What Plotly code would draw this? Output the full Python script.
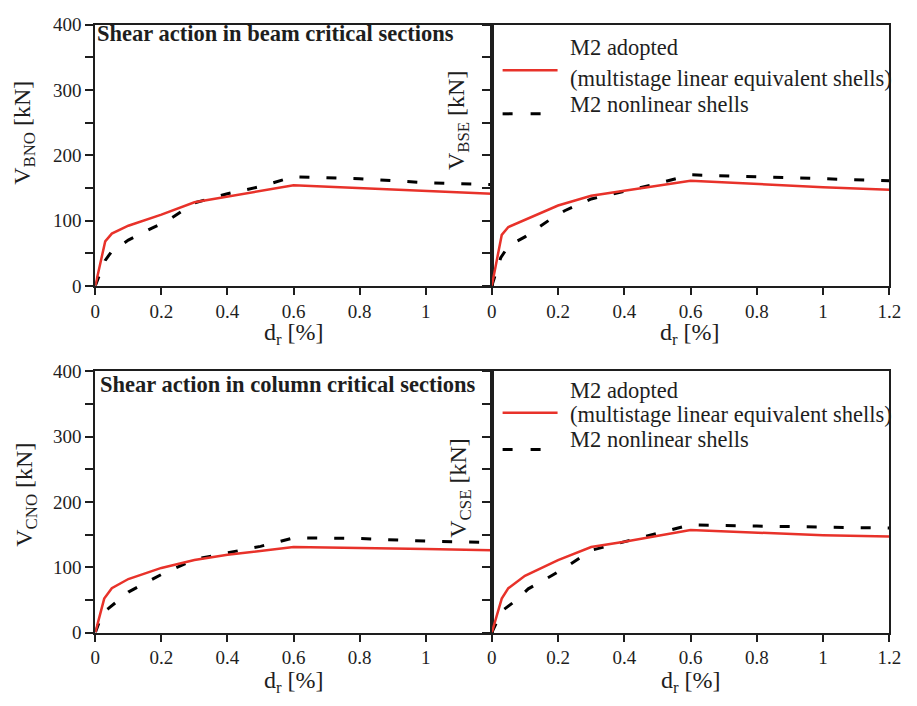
import plotly.graph_objects as go

W, H = 917, 706

# ---------------- data ----------------
# Beam, node NO
x_bno_m2 = [0, 0.03, 0.05, 0.1, 0.2, 0.3, 0.6, 1.0, 1.2]
v_bno_m2 = [0, 68, 80, 92, 109, 128, 154, 145, 141]
x_bno_nl = [0, 0.03, 0.05, 0.1, 0.17, 0.22, 0.3, 0.4, 0.5, 0.6, 0.8, 1.0, 1.2]
v_bno_nl = [0, 39, 53, 70, 88, 100, 127, 141, 152, 167, 164, 158, 155]
# Beam, node SE
x_bse_m2 = [0, 0.03, 0.05, 0.1, 0.2, 0.3, 0.4, 0.6, 1.0, 1.2]
v_bse_m2 = [0, 78, 90, 101, 123, 138, 146, 161, 151, 147]
x_bse_nl = [0, 0.027, 0.05, 0.1, 0.18, 0.22, 0.3, 0.4, 0.48, 0.6, 0.8, 1.0, 1.2]
v_bse_nl = [0, 43, 61, 75, 103, 115, 133, 145, 154, 170, 167, 164, 161]
# Column, node NO
x_cno_m2 = [0, 0.027, 0.05, 0.1, 0.2, 0.3, 0.4, 0.6, 1.0, 1.2]
v_cno_m2 = [0, 52, 68, 82, 99, 111, 119, 131, 128, 126]
x_cno_nl = [0, 0.022, 0.04, 0.1, 0.2, 0.3, 0.4, 0.5, 0.6, 0.8, 1.0, 1.2]
v_cno_nl = [0, 30, 37, 62, 89, 112, 122, 132, 145, 144, 140, 138]
# Column, node SE
x_cse_m2 = [0, 0.03, 0.05, 0.1, 0.2, 0.3, 0.4, 0.6, 1.0, 1.2]
v_cse_m2 = [0, 52, 68, 87, 111, 131, 139, 157, 149, 147]
x_cse_nl = [0, 0.03, 0.075, 0.11, 0.18, 0.22, 0.3, 0.4, 0.48, 0.6, 0.8, 1.0, 1.2]
v_cse_nl = [0, 33, 50, 67, 87, 99, 126, 139, 149, 165, 163, 162, 160]

x_ticks_left = [0, 0.2, 0.4, 0.6, 0.8, 1.0]
x_ticks_right = [0, 0.2, 0.4, 0.6, 0.8, 1.0, 1.2]
x_labels = {0: "0", 0.2: "0.2", 0.4: "0.4", 0.6: "0.6", 0.8: "0.8", 1.0: "1", 1.2: "1.2"}
y_ticks = [0, 50, 100, 150, 200, 250, 300, 350, 400]
y_labels = ["0", "", "100", "", "200", "", "300", "", "400"]

legend_m2 = ["M2 adopted", "(multistage linear equivalent shells)"]
legend_nl = "M2 nonlinear shells"
panel_titles = ["Shear action in beam critical sections", "Shear action in column critical sections"]

RED = "#e8322a"
INK = "#1e1e1e"
FONT = "Liberation Serif, Times New Roman, serif"
DASH = "10px,17px"

def px(x):
    return x / W

def py(y):
    return 1 - y / H

fig = go.Figure()

panels = [
    ("x", "y", x_bno_m2, v_bno_m2, x_bno_nl, v_bno_nl),
    ("x2", "y2", x_bse_m2, v_bse_m2, x_bse_nl, v_bse_nl),
    ("x3", "y3", x_cno_m2, v_cno_m2, x_cno_nl, v_cno_nl),
    ("x4", "y4", x_cse_m2, v_cse_m2, x_cse_nl, v_cse_nl),
]
for xa, ya, xm, vm, xn, vn in panels:
    fig.add_trace(go.Scatter(x=xn, y=vn, xaxis=xa, yaxis=ya, mode="lines",
                             line=dict(color="black", width=3, dash=DASH),
                             showlegend=False, hoverinfo="skip"))
    fig.add_trace(go.Scatter(x=xm, y=vm, xaxis=xa, yaxis=ya, mode="lines",
                             line=dict(color=RED, width=2.5),
                             showlegend=False, hoverinfo="skip"))

xl = [px(92), px(496)]
xr = [px(496), px(901)]
yt = [py(284.3), py(15)]
yb = [py(641.7), py(372.3)]

def xaxis(domain, anchor, ticks):
    return dict(domain=domain, anchor=anchor, range=[0, 1.2],
                tickmode="array", tickvals=ticks, ticktext=[x_labels[t] for t in ticks],
                ticks="outside", ticklen=7, tickwidth=2, tickcolor=INK,
                showline=True, linewidth=2, linecolor=INK, mirror=True,
                showgrid=False, zeroline=False,
                tickfont=dict(family=FONT, size=19, color=INK))

def yaxis(domain, anchor, labels):
    return dict(domain=domain, anchor=anchor, range=[0, 400],
                tickmode="array", tickvals=y_ticks,
                ticktext=y_labels if labels else [""] * len(y_ticks),
                showticklabels=labels,
                ticks="outside", ticklen=8, tickwidth=2, tickcolor=INK,
                showline=True, linewidth=2, linecolor=INK, mirror=True,
                showgrid=False, zeroline=False,
                tickfont=dict(family=FONT, size=19, color=INK))

fig.update_layout(
    width=W, height=H, margin=dict(l=0, r=0, t=0, b=0),
    paper_bgcolor="white", plot_bgcolor="white", showlegend=False,
    xaxis=xaxis(xl, "y", x_ticks_left), yaxis=yaxis(yt, "x", True),
    xaxis2=xaxis(xr, "y2", x_ticks_right), yaxis2=yaxis(yt, "x2", False),
    xaxis3=xaxis(xl, "y3", x_ticks_left), yaxis3=yaxis(yb, "x3", True),
    xaxis4=xaxis(xr, "y4", x_ticks_right), yaxis4=yaxis(yb, "x4", False),
)

ann = []
def text(x, y, s, size, angle=0, xanchor="center", bold=False):
    ann.append(dict(x=px(x), y=py(y), xref="paper", yref="paper", text=s,
                    showarrow=False, textangle=angle, xanchor=xanchor, yanchor="middle",
                    font=dict(family=FONT, size=size, color=INK,
                              weight="bold" if bold else "normal")))

# panel titles
text(92, 24, panel_titles[0], 22.5, xanchor="left", bold=True)
text(95, 386, panel_titles[1], 22.5, xanchor="left", bold=True)

# y axis titles
text(20, 127, "V<sub>BNO</sub> [kN]", 24, angle=-90)
text(461, 114, "V<sub>BSE</sub> [kN]", 24, angle=-90)
text(22, 500, "V<sub>CNO</sub> [kN]", 24, angle=-90)
text(464, 493, "V<sub>CSE</sub> [kN]", 24, angle=-90)

# x axis titles
for cx, cy in [(294, 334), (698, 334), (294, 693), (699, 693)]:
    text(cx, cy, "d<sub>r</sub> [%]", 24)

# legends (text + key lines)
shapes = []
for (y1, y2, y3, yk1, yk2) in [(39, 71, 97, 62, 107), (392, 417, 443, 415, 453)]:
    text(574, y1, legend_m2[0], 22.5, xanchor="left")
    text(574, y2, legend_m2[1], 22.5, xanchor="left")
    text(574, y3, legend_nl, 22.5, xanchor="left")
    shapes.append(dict(type="line", xref="paper", yref="paper",
                       x0=px(507), x1=px(563), y0=py(yk1), y1=py(yk1),
                       line=dict(color=RED, width=2.5)))
    shapes.append(dict(type="line", xref="paper", yref="paper",
                       x0=px(507), x1=px(563), y0=py(yk2), y1=py(yk2),
                       line=dict(color="black", width=3, dash="10px,18px")))

fig.update_layout(annotations=ann, shapes=shapes)
fig.write_html("out.html")
